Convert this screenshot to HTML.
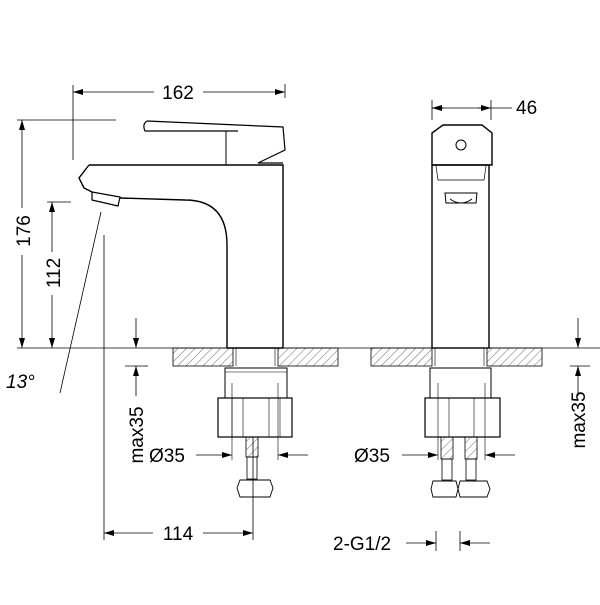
<!DOCTYPE html>
<html><head><style>
body{margin:0;background:#fff}
svg text{font-family:"Liberation Sans",sans-serif;fill:#000}
</style></head><body>
<svg width="600" height="600" viewBox="0 0 600 600" xmlns="http://www.w3.org/2000/svg">
<defs>
<pattern id="h" width="6" height="6" patternUnits="userSpaceOnUse" patternTransform="rotate(45)">
<line x1="0" y1="0" x2="0" y2="6" stroke="#444" stroke-width="0.8"/></pattern>
<marker id="a" viewBox="0 0 10 6" refX="10" refY="3" markerWidth="10" markerHeight="6" orient="auto-start-reverse" markerUnits="userSpaceOnUse"><path d="M0,0L10,3L0,6z" fill="#000"/></marker>
</defs>
<g stroke="#000" fill="none" stroke-width="1">
<line x1="73" y1="85" x2="73" y2="160" stroke-width="0.8"/>
<line x1="285" y1="84" x2="285" y2="98" stroke-width="0.8"/>
<line x1="73" y1="92" x2="154" y2="92" marker-start="url(#a)" stroke-width="0.8"/>
<line x1="203" y1="92" x2="285" y2="92" marker-end="url(#a)" stroke-width="0.8"/>
<line x1="17" y1="120" x2="116" y2="120" stroke-width="0.8"/>
<line x1="22" y1="120" x2="22" y2="208" marker-start="url(#a)" stroke-width="0.8"/>
<line x1="22" y1="255" x2="22" y2="348" marker-end="url(#a)" stroke-width="0.8"/>
<line x1="47" y1="202" x2="71" y2="202" stroke-width="0.8"/>
<line x1="52" y1="202" x2="52" y2="252" marker-start="url(#a)" stroke-width="0.8"/>
<line x1="52" y1="295" x2="52" y2="348" marker-end="url(#a)" stroke-width="0.8"/>
<line x1="17" y1="348" x2="600" y2="348" stroke-width="0.8"/>
<line x1="104" y1="235" x2="104" y2="540" stroke-width="0.8"/>
<line x1="101" y1="212" x2="60" y2="393" stroke-width="0.8"/>
<path d="M89,165 L283,165 L283,348 L227,348 L227,245 Q227,200 185,200 L120,198" stroke-width="1.4"/>
<path d="M89,165 L79,178 L84,188 L92,192" stroke-width="1.4"/>
<path d="M92,192 L120,197 L118,206 L92,200 Z" stroke-width="1.2"/>
<path d="M147,121 L283,127 L285,150 L258,163 L283,163 M147,121 Q142,124 145,131 L238,131" stroke-width="1.2"/>
<line x1="226" y1="131" x2="226" y2="165" stroke-width="1"/>
<rect x="173" y="348" width="60" height="18" fill="url(#h)" stroke-width="0.8"/>
<rect x="278" y="348" width="60" height="18" fill="url(#h)" stroke-width="0.8"/>
<line x1="236" y1="348" x2="236" y2="366" stroke-width="0.6"/><line x1="275" y1="348" x2="275" y2="366" stroke-width="0.6"/>
<rect x="371" y="348" width="61" height="18" fill="url(#h)" stroke-width="0.8"/>
<rect x="487" y="348" width="55" height="18" fill="url(#h)" stroke-width="0.8"/>
<line x1="435" y1="348" x2="435" y2="366" stroke-width="0.6"/><line x1="484" y1="348" x2="484" y2="366" stroke-width="0.6"/>
<rect x="225" y="368" width="62" height="30" stroke-width="1"/>
<line x1="225" y1="372" x2="287" y2="372" stroke-width="0.6"/>
<rect x="218" y="398" width="74" height="39" stroke-width="1.2"/>
<line x1="232" y1="398" x2="232" y2="437" stroke-width="0.6"/><line x1="243" y1="398" x2="243" y2="437" stroke-width="0.6"/>
<line x1="269" y1="398" x2="269" y2="437" stroke-width="0.6"/><line x1="280" y1="398" x2="280" y2="437" stroke-width="0.6"/>
<line x1="232" y1="383" x2="232" y2="460" stroke-width="0.6"/><line x1="278" y1="383" x2="278" y2="460" stroke-width="0.6"/>
<rect x="246" y="437" width="12" height="20" fill="url(#h)" stroke-width="0.8"/>
<rect x="247" y="457" width="10" height="22" stroke-width="0.8"/>
<path d="M240,480 L270,480 L273,488 L270,497 L240,497 L237,488 Z" stroke-width="0.9"/>
<line x1="253" y1="437" x2="253" y2="540" stroke-width="0.8"/>
<line x1="196" y1="455" x2="232" y2="455" marker-end="url(#a)" stroke-width="0.8"/>
<line x1="278" y1="455" x2="308" y2="455" marker-start="url(#a)" stroke-width="0.8"/>
<line x1="104" y1="533" x2="153" y2="533" marker-start="url(#a)" stroke-width="0.8"/>
<line x1="203" y1="533" x2="253" y2="533" marker-end="url(#a)" stroke-width="0.8"/>
<line x1="136" y1="318" x2="136" y2="348" marker-end="url(#a)" stroke-width="0.8"/>
<line x1="136" y1="396" x2="136" y2="366" marker-end="url(#a)" stroke-width="0.8"/>
<line x1="125" y1="366" x2="148" y2="366" stroke-width="0.8"/>
<path d="M432,165 L432,133 L443,125 L482,125 L492,133 L492,165 Z" stroke-width="1.4"/>
<circle cx="461" cy="145" r="5" stroke-width="1"/>
<rect x="432" y="165" width="57" height="183" stroke-width="1.4"/>
<path d="M436,166 L438,180 L484,180 L486,166" stroke-width="0.7"/>
<path d="M445,193 L477,193 L476,203 L446,203 Z M450,199 Q461,207 472,199" stroke-width="1"/>
<line x1="432" y1="108" x2="512" y2="108" stroke-width="0.8"/>
<line x1="432" y1="100" x2="432" y2="120" stroke-width="0.8"/><line x1="491" y1="100" x2="491" y2="120" stroke-width="0.8"/>
<line x1="445" y1="108" x2="432" y2="108" marker-end="url(#a)" stroke-width="0.8"/>
<line x1="478" y1="108" x2="491" y2="108" marker-end="url(#a)" stroke-width="0.8"/>
<rect x="430" y="368" width="61" height="30" stroke-width="1"/>
<rect x="425" y="398" width="75" height="39" stroke-width="1.2"/>
<line x1="449" y1="398" x2="449" y2="437" stroke-width="0.6"/><line x1="474" y1="398" x2="474" y2="437" stroke-width="0.6"/>
<line x1="438" y1="383" x2="438" y2="460" stroke-width="0.6"/><line x1="485" y1="383" x2="485" y2="460" stroke-width="0.6"/>
<rect x="441" y="437" width="12" height="22" fill="url(#h)" stroke-width="0.8"/>
<rect x="465" y="437" width="12" height="22" fill="url(#h)" stroke-width="0.8"/>
<rect x="442" y="459" width="10" height="21" stroke-width="0.8"/><rect x="466" y="459" width="10" height="21" stroke-width="0.8"/>
<path d="M433,481 L456,481 L458,489 L456,497 L433,497 L431,489 Z" stroke-width="0.9"/>
<path d="M460,481 L487,481 L490,489 L487,497 L460,497 L458,489 Z" stroke-width="0.9"/>
<line x1="402" y1="455" x2="438" y2="455" marker-end="url(#a)" stroke-width="0.8"/>
<line x1="485" y1="455" x2="515" y2="455" marker-start="url(#a)" stroke-width="0.8"/>
<line x1="406" y1="543" x2="436" y2="543" marker-end="url(#a)" stroke-width="0.8"/>
<line x1="490" y1="543" x2="460" y2="543" marker-end="url(#a)" stroke-width="0.8"/>
<line x1="436" y1="531" x2="436" y2="551" stroke-width="0.8"/><line x1="460" y1="531" x2="460" y2="551" stroke-width="0.8"/>
<line x1="578" y1="318" x2="578" y2="348" marker-end="url(#a)" stroke-width="0.8"/>
<line x1="578" y1="396" x2="578" y2="366" marker-end="url(#a)" stroke-width="0.8"/>
<line x1="570" y1="366" x2="590" y2="366" stroke-width="0.8"/>
</g>
<g font-size="19">
<text x="178" y="99" text-anchor="middle">162</text>
<text x="516" y="114">46</text>
<text transform="translate(30,231) rotate(-90)" text-anchor="middle">176</text>
<text transform="translate(60,273) rotate(-90)" text-anchor="middle">112</text>
<text x="6" y="388" font-style="italic">13°</text>
<text x="149" y="462">Ø35</text>
<text x="354" y="462">Ø35</text>
<text x="178" y="540" text-anchor="middle">114</text>
<text x="333" y="550">2-G1/2</text>
<text transform="translate(143,435) rotate(-90)" text-anchor="middle">max35</text>
<text transform="translate(585,420) rotate(-90)" text-anchor="middle">max35</text>
</g>
</svg>
</body></html>
